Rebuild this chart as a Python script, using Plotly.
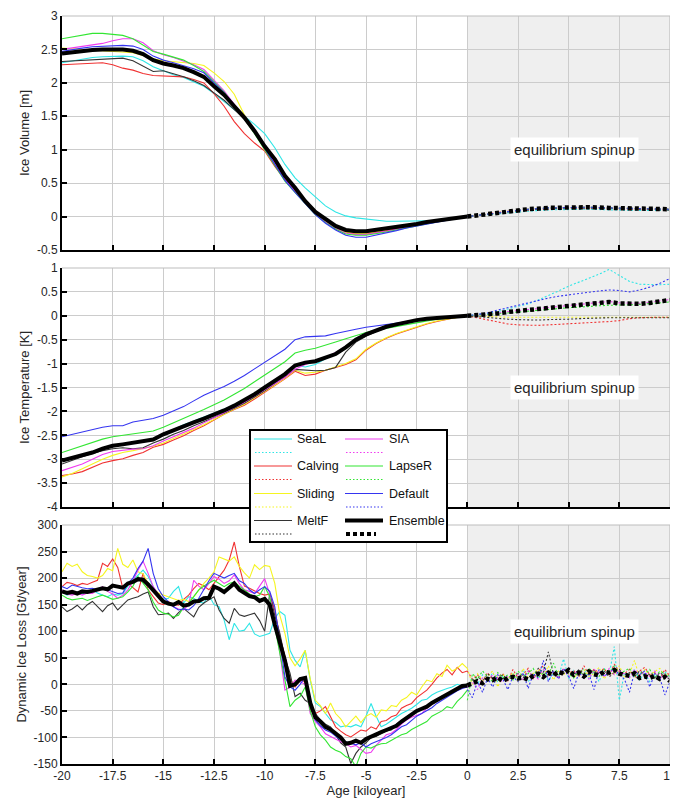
import plotly.graph_objects as go

# ---------------- data ----------------
AGE_PAST = [round(-20 + 0.5 * i, 2) for i in range(41)]      # -20 .. 0, 0.5 ky
AGE_PAST_Q = [round(-20 + 0.25 * i, 2) for i in range(81)]   # -20 .. 0, 0.25 ky
AGE_SPIN_1 = [float(i) for i in range(11)]                    # 0 .. 10, 1 ky
AGE_SPIN_H = [round(0.5 * i, 2) for i in range(21)]           # 0 .. 10, 0.5 ky
AGE_SPIN_Q = [round(0.25 * i, 2) for i in range(41)]          # 0 .. 10, 0.25 ky

MODELS = ["SeaL", "Calving", "Sliding", "MeltF", "SIA", "LapseR", "Default"]
COLORS = ["#2ee6e6", "#f03232", "#f5f520", "#333333", "#f03cf0", "#33e633", "#3535f0"]

X_TICKS = [-20, -17.5, -15, -12.5, -10, -7.5, -5, -2.5, 0, 2.5, 5, 7.5, 10]
X_TICKTEXT = ["-20", "-17.5", "-15", "-12.5", "-10", "-7.5", "-5", "-2.5", "0", "2.5", "5", "7.5", "10"]
VOL_TICKS = [-0.5, 0, 0.5, 1, 1.5, 2, 2.5, 3]
VOL_TICKTEXT = ["-0.5", "0", "0.5", "1", "1.5", "2", "2.5", "3"]
TMP_TICKS = [-4, -3.5, -3, -2.5, -2, -1.5, -1, -0.5, 0, 0.5, 1]
TMP_TICKTEXT = ["-4", "-3.5", "-3", "-2.5", "-2", "-1.5", "-1", "-0.5", "0", "0.5", "1"]
DIL_TICKS = [-150, -100, -50, 0, 50, 100, 150, 200, 250, 300]
DIL_TICKTEXT = ["-150", "-100", "-50", "0", "50", "100", "150", "200", "250", "300"]

# ---- Ice volume [m] ----
VOL = {
    "SeaL": [2.30, 2.33, 2.36, 2.38, 2.39, 2.40, 2.40, 2.39, 2.33, 2.24, 2.18, 2.12, 2.08, 2.02, 1.95, 1.84, 1.72, 1.60, 1.50, 1.38, 1.24, 1.03, 0.78, 0.58, 0.43, 0.29, 0.16, 0.07, 0.01, -0.02, -0.04, -0.06, -0.07, -0.07, -0.07, -0.07, -0.07, -0.06, -0.04, -0.02, 0.0],
    "Calving": [2.27, 2.28, 2.29, 2.30, 2.30, 2.27, 2.22, 2.19, 2.14, 2.11, 2.10, 2.10, 2.09, 2.05, 2.00, 1.84, 1.65, 1.42, 1.24, 1.10, 0.98, 0.75, 0.55, 0.38, 0.22, 0.06, -0.06, -0.16, -0.23, -0.26, -0.26, -0.24, -0.21, -0.18, -0.15, -0.12, -0.09, -0.07, -0.05, -0.02, 0.0],
    "Sliding": [2.52, 2.51, 2.50, 2.49, 2.48, 2.48, 2.47, 2.45, 2.41, 2.36, 2.33, 2.32, 2.31, 2.29, 2.26, 2.15, 2.02, 1.83, 1.52, 1.25, 1.00, 0.80, 0.57, 0.39, 0.22, 0.06, -0.06, -0.16, -0.23, -0.25, -0.25, -0.23, -0.20, -0.17, -0.14, -0.12, -0.09, -0.07, -0.05, -0.02, 0.0],
    "MeltF": [2.32, 2.33, 2.34, 2.35, 2.35, 2.36, 2.37, 2.33, 2.25, 2.17, 2.18, 2.14, 2.09, 2.03, 1.96, 1.85, 1.74, 1.60, 1.46, 1.28, 1.04, 0.82, 0.58, 0.40, 0.23, 0.07, -0.05, -0.15, -0.21, -0.23, -0.23, -0.21, -0.19, -0.16, -0.14, -0.11, -0.09, -0.06, -0.04, -0.02, 0.0],
    "SIA": [2.50, 2.52, 2.55, 2.57, 2.59, 2.63, 2.66, 2.66, 2.60, 2.48, 2.42, 2.38, 2.33, 2.27, 2.20, 2.04, 1.88, 1.68, 1.48, 1.27, 1.03, 0.80, 0.56, 0.38, 0.21, 0.05, -0.08, -0.18, -0.25, -0.27, -0.27, -0.25, -0.22, -0.19, -0.16, -0.13, -0.10, -0.07, -0.05, -0.02, 0.0],
    "LapseR": [2.66, 2.69, 2.72, 2.74, 2.74, 2.72, 2.71, 2.66, 2.56, 2.47, 2.43, 2.39, 2.34, 2.26, 2.17, 2.02, 1.86, 1.66, 1.46, 1.24, 1.00, 0.76, 0.53, 0.36, 0.19, 0.03, -0.09, -0.19, -0.26, -0.28, -0.28, -0.26, -0.23, -0.20, -0.17, -0.13, -0.10, -0.07, -0.05, -0.02, 0.0],
    "Default": [2.47, 2.50, 2.52, 2.54, 2.55, 2.56, 2.56, 2.55, 2.50, 2.40, 2.34, 2.30, 2.26, 2.21, 2.15, 2.00, 1.85, 1.66, 1.47, 1.26, 1.02, 0.78, 0.54, 0.36, 0.19, 0.03, -0.10, -0.20, -0.28, -0.31, -0.31, -0.28, -0.25, -0.21, -0.17, -0.14, -0.11, -0.08, -0.05, -0.02, 0.0],
}
VOL_ENS = [2.44, 2.46, 2.48, 2.49, 2.50, 2.50, 2.50, 2.48, 2.43, 2.34, 2.29, 2.26, 2.22, 2.16, 2.09, 1.95, 1.82, 1.65, 1.48, 1.28, 1.05, 0.86, 0.61, 0.43, 0.23, 0.07, -0.04, -0.14, -0.20, -0.22, -0.22, -0.20, -0.18, -0.15, -0.13, -0.11, -0.08, -0.06, -0.04, -0.02, 0.0]
VOL_SPIN = {
    "SeaL": [0, 0.03, 0.06, 0.08, 0.10, 0.11, 0.11, 0.10, 0.09, 0.09, 0.09],
    "Calving": [0, 0.04, 0.08, 0.10, 0.12, 0.13, 0.13, 0.12, 0.11, 0.10, 0.10],
    "Sliding": [0, 0.04, 0.08, 0.11, 0.13, 0.14, 0.14, 0.13, 0.12, 0.11, 0.11],
    "MeltF": [0, 0.04, 0.07, 0.10, 0.12, 0.13, 0.13, 0.12, 0.11, 0.10, 0.10],
    "SIA": [0, 0.04, 0.08, 0.11, 0.13, 0.14, 0.14, 0.13, 0.12, 0.11, 0.11],
    "LapseR": [0, 0.04, 0.08, 0.11, 0.13, 0.14, 0.14, 0.13, 0.12, 0.11, 0.11],
    "Default": [0, 0.04, 0.08, 0.11, 0.13, 0.14, 0.14, 0.13, 0.12, 0.11, 0.11],
}
VOL_ENS_SPIN = [0, 0.04, 0.08, 0.11, 0.13, 0.14, 0.14, 0.13, 0.12, 0.11, 0.11]

# ---- Ice temperature [K] ----
TMP = {
    "SeaL": [-3.01, -2.96, -2.91, -2.84, -2.77, -2.71, -2.68, -2.65, -2.63, -2.58, -2.47, -2.38, -2.28, -2.20, -2.12, -2.04, -1.96, -1.87, -1.76, -1.63, -1.49, -1.35, -1.21, -1.03, -1.07, -1.02, -0.90, -0.80, -0.66, -0.50, -0.39, -0.31, -0.23, -0.18, -0.13, -0.09, -0.06, -0.04, -0.02, -0.01, 0.0],
    "Calving": [-3.34, -3.31, -3.26, -3.17, -3.08, -3.03, -2.99, -2.92, -2.86, -2.75, -2.69, -2.60, -2.51, -2.40, -2.30, -2.18, -2.06, -1.96, -1.87, -1.74, -1.60, -1.46, -1.32, -1.16, -1.25, -1.22, -1.14, -1.08, -1.02, -0.92, -0.72, -0.58, -0.47, -0.38, -0.31, -0.24, -0.17, -0.12, -0.07, -0.03, 0.0],
    "Sliding": [-3.37, -3.30, -3.20, -3.10, -3.00, -2.92, -2.86, -2.82, -2.78, -2.73, -2.66, -2.57, -2.48, -2.38, -2.28, -2.17, -2.05, -1.95, -1.85, -1.72, -1.58, -1.45, -1.31, -1.14, -1.20, -1.18, -1.14, -1.07, -1.00, -0.90, -0.70, -0.57, -0.46, -0.37, -0.30, -0.23, -0.16, -0.11, -0.07, -0.03, 0.0],
    "MeltF": [-3.10, -3.02, -2.95, -2.88, -2.82, -2.78, -2.76, -2.78, -2.76, -2.66, -2.58, -2.48, -2.40, -2.30, -2.22, -2.13, -2.04, -1.94, -1.83, -1.70, -1.57, -1.42, -1.28, -1.12, -1.14, -1.15, -1.14, -1.08, -0.76, -0.55, -0.43, -0.33, -0.25, -0.19, -0.14, -0.10, -0.07, -0.04, -0.02, -0.01, 0.0],
    "SIA": [-3.24, -3.17, -3.10, -3.00, -2.90, -2.84, -2.81, -2.79, -2.78, -2.72, -2.62, -2.53, -2.45, -2.35, -2.24, -2.14, -2.03, -1.92, -1.81, -1.68, -1.55, -1.42, -1.29, -1.12, -1.02, -0.95, -0.87, -0.77, -0.63, -0.50, -0.39, -0.31, -0.23, -0.18, -0.13, -0.09, -0.06, -0.04, -0.02, -0.01, 0.0],
    "LapseR": [-2.86, -2.79, -2.72, -2.65, -2.58, -2.53, -2.50, -2.47, -2.45, -2.41, -2.33, -2.24, -2.15, -2.05, -1.96, -1.86, -1.76, -1.64, -1.52, -1.38, -1.24, -1.10, -0.96, -0.78, -0.72, -0.68, -0.62, -0.55, -0.48, -0.41, -0.35, -0.30, -0.26, -0.22, -0.18, -0.14, -0.10, -0.07, -0.05, -0.02, 0.0],
    "Default": [-2.53, -2.48, -2.43, -2.37, -2.33, -2.30, -2.30, -2.22, -2.19, -2.15, -2.08, -1.99, -1.90, -1.78, -1.66, -1.57, -1.48, -1.37, -1.25, -1.11, -0.97, -0.84, -0.70, -0.50, -0.44, -0.43, -0.42, -0.37, -0.32, -0.28, -0.24, -0.21, -0.18, -0.15, -0.12, -0.09, -0.07, -0.05, -0.03, -0.01, 0.0],
}
TMP_ENS = [-3.03, -2.98, -2.93, -2.86, -2.78, -2.72, -2.69, -2.66, -2.64, -2.59, -2.48, -2.39, -2.30, -2.23, -2.15, -2.07, -1.98, -1.88, -1.77, -1.64, -1.50, -1.36, -1.22, -1.04, -0.98, -0.95, -0.88, -0.80, -0.66, -0.50, -0.39, -0.31, -0.23, -0.18, -0.13, -0.09, -0.06, -0.04, -0.02, -0.01, 0.0]
TMP_SPIN = {
    "SeaL": [0, 0.02, 0.05, 0.09, 0.14, 0.19, 0.25, 0.33, 0.42, 0.52, 0.62, 0.70, 0.78, 0.87, 0.97, 0.85, 0.72, 0.66, 0.65, 0.65, 0.66],
    "Calving": [0, -0.04, -0.09, -0.13, -0.17, -0.19, -0.20, -0.20, -0.19, -0.18, -0.17, -0.16, -0.15, -0.14, -0.12, -0.10, -0.06, -0.04, -0.03, -0.03, -0.03],
    "Sliding": [0, -0.01, -0.02, -0.03, -0.03, -0.03, -0.03, -0.03, -0.03, -0.03, -0.03, -0.03, -0.03, -0.03, -0.03, -0.03, -0.03, -0.03, -0.03, -0.03, -0.03],
    "MeltF": [0, -0.02, -0.04, -0.06, -0.07, -0.08, -0.09, -0.09, -0.08, -0.08, -0.07, -0.06, -0.05, -0.05, -0.04, -0.04, -0.04, -0.04, -0.04, -0.04, -0.04],
    "SIA": [0, 0.01, 0.03, 0.06, 0.09, 0.11, 0.13, 0.15, 0.17, 0.19, 0.22, 0.24, 0.26, 0.28, 0.30, 0.27, 0.26, 0.26, 0.28, 0.31, 0.34],
    "LapseR": [0, 0.01, 0.02, 0.04, 0.06, 0.08, 0.10, 0.12, 0.14, 0.15, 0.17, 0.18, 0.20, 0.21, 0.22, 0.22, 0.23, 0.24, 0.25, 0.27, 0.29],
    "Default": [0, 0.03, 0.06, 0.12, 0.17, 0.23, 0.28, 0.33, 0.37, 0.41, 0.44, 0.46, 0.49, 0.52, 0.54, 0.53, 0.50, 0.54, 0.60, 0.68, 0.78],
}
TMP_ENS_SPIN = [0, 0.01, 0.03, 0.05, 0.08, 0.10, 0.12, 0.14, 0.16, 0.18, 0.21, 0.23, 0.25, 0.27, 0.29, 0.26, 0.25, 0.25, 0.27, 0.30, 0.33]

# ---- Dynamic ice loss [Gt/year] ----
DIL = {
    "SeaL": [175, 168, 171, 174, 170, 176, 178, 172, 168, 165, 170, 168, 171, 185, 196, 205,
             215, 203, 185, 165, 160, 162, 175, 184, 153, 165, 162, 155, 153, 168, 150, 146,
             121, 84, 115, 100, 102, 115, 95, 90, 93, 96, 125, 137, 130, 64, 45, 33,
             64, 8, -35, -42, -55, -67, -72, -80, -78, -80, -76, -80, -60, -36, -60, -80,
             -75, -68, -62, -55, -50, -45, -38, -30, -28, -20, -15, -11, -8, -5, 0, -3, -5],
    "Calving": [184, 192, 190, 186, 190, 188, 192, 196, 228, 222, 236, 220, 181, 190, 182, 174,
                209, 178, 165, 153, 150, 156, 150, 149, 160, 168, 180, 190, 185, 178, 190, 203,
                215, 234, 268, 222, 185, 181, 176, 171, 168, 170, 140, 90, 52, 10, -5, 8,
                5, -48, -55, -50, -42, -60, -80, -88, -95, -99, -92, -86, -88, -80, -84, -70,
                -68, -61, -58, -45, -40, -36, -25, -18, -11, 0, 12, 21, 28, 18, 32, 22, 25],
    "Sliding": [212, 228, 222, 226, 212, 205, 203, 200, 205, 218, 214, 256, 226, 220, 234, 212,
                208, 190, 180, 172, 168, 165, 162, 158, 160, 156, 165, 178, 190, 200, 212, 240,
                236, 232, 240, 222, 210, 200, 225, 216, 224, 222, 190, 130, 96, 50, 35, 48,
                64, 10, -30, -40, -55, -35, -55, -65, -80, -70, -60, -72, -60, -55, -62, -48,
                -50, -40, -42, -30, -25, -15, -20, -5, 8, 5, 20, 15, 36, 25, 30, 39, 30],
    "MeltF": [146, 137, 142, 149, 140, 150, 156, 146, 137, 148, 153, 140, 150, 159, 162, 165,
              170, 174, 146, 131, 132, 134, 124, 135, 143, 135, 127, 145, 153, 159, 165, 140,
              124, 115, 143, 131, 128, 131, 134, 120, 100, 171, 130, 96, 50, 21, -23, -17,
              -30, -36, -55, -67, -75, -80, -95, -110, -118, -149, -130, -118, -110, -100, -98, -92,
              -88, -86, -75, -68, -61, -55, -50, -45, -42, -35, -28, -23, -18, -12, -8, -5, -5],
    "SIA": [178, 170, 168, 172, 168, 172, 171, 178, 184, 175, 170, 162, 168, 178, 195, 215,
            232, 209, 184, 170, 159, 152, 146, 142, 140, 150, 196, 185, 178, 190, 203, 198,
            190, 195, 206, 190, 178, 175, 171, 185, 199, 170, 115, 60, -11, -5, 8, 5,
            0, -55, -70, -80, -93, -98, -104, -108, -112, -118, -115, -122, -130, -128, -115, -105,
            -95, -92, -85, -75, -67, -62, -58, -55, -45, -38, -30, -23, -18, -12, -8, -6, -5],
    "LapseR": [168, 162, 159, 160, 162, 158, 162, 165, 168, 164, 160, 162, 165, 174, 185, 203,
               190, 178, 155, 140, 134, 132, 127, 130, 145, 153, 165, 178, 185, 190, 196, 190,
               184, 190, 193, 185, 178, 170, 165, 168, 184, 165, 108, 60, 10, -42, -30, -23,
               -5, -50, -80, -95, -105, -118, -124, -128, -136, -140, -155, -130, -118, -120, -115, -112,
               -111, -105, -100, -95, -92, -85, -80, -74, -70, -60, -55, -50, -42, -45, -32, -23, -11],
    "Default": [184, 180, 187, 184, 182, 180, 181, 178, 180, 178, 175, 171, 172, 190, 200, 218,
                232, 256, 209, 180, 165, 155, 146, 140, 142, 140, 148, 162, 180, 195, 209, 205,
                200, 205, 209, 195, 190, 178, 171, 178, 184, 175, 146, 80, 14, -5, -11, 0,
                14, -30, -67, -78, -86, -90, -98, -105, -108, -111, -114, -110, -118, -112, -108, -105,
                -100, -95, -88, -80, -76, -68, -60, -55, -50, -44, -36, -30, -24, -17, -12, -8, -5],
}
DIL_ENS = [175, 172, 174, 171, 175, 174, 176, 178, 181, 179, 186, 184, 182, 190, 193, 198,
           197, 188, 178, 166, 156, 152, 150, 155, 148, 150, 156, 157, 162, 163, 184, 180,
           174, 182, 190, 178, 172, 166, 164, 157, 161, 150, 112, 80, 45, -3, 0, 10,
           12, -35, -62, -70, -80, -85, -92, -100, -112, -110, -106, -110, -103, -98, -94, -90,
           -86, -82, -78, -70, -63, -55, -50, -46, -42, -35, -30, -25, -20, -14, -8, -3, -2]
DIL_SPIN = {
    "SeaL": [-5, 12, 0, 18, 6, 22, 4, 15, 8, 20, 10, 28, 5, 18, 14, 32, 8, 20, 14, 48, 10, 26, 16, 30, 10, 24, 5, 30, 18, 71, -30, 22, 15, 28, 8, 22, 5, 18, 12, 24, 12],
    "Calving": [25, 10, 18, 5, 22, 8, 14, 20, 6, 28, 12, 18, 30, 10, 25, 35, 15, 22, 12, 30, 20, 26, 14, 35, 18, 28, 22, 30, 16, 38, 24, 20, 28, 12, 25, 32, 18, 22, 10, 28, 15],
    "Sliding": [30, 0, 20, 8, 15, 25, -5, 18, 10, 22, 5, 30, 12, 20, 28, 15, 35, 8, 25, 18, 30, 12, 22, 28, 15, 20, 32, 10, 25, 18, 35, 14, 20, 45, 12, 28, 18, 24, 30, 15, 20],
    "MeltF": [-5, 8, 15, 5, 20, 12, 10, 18, 8, 15, 20, 12, 25, 15, 30, 22, 61, 18, 25, 20, 30, 15, 28, 22, 18, 26, 20, 25, 14, 22, 28, 18, 22, 15, 25, 20, 18, 12, 22, 15, 10],
    "SIA": [-5, 5, -10, 12, 8, 18, 10, 5, 15, 12, 20, 8, 25, 15, 10, 28, 18, 22, 12, 30, 15, 20, 25, 18, 10, 28, 22, 15, 30, 18, 25, 20, 12, 28, 18, 22, 15, 25, 10, 20, 8],
    "LapseR": [-30, 20, 10, 25, 15, 5, 22, 12, 18, 8, 25, 15, 20, 30, 12, 22, 18, 40, 15, 28, 20, 12, 25, 18, 30, 22, 15, 28, 20, 35, 18, 25, 30, 15, 22, 18, 28, 12, 25, 20, 15],
    "Default": [-10, -25, 5, -15, 12, -5, 18, 10, -10, 15, 5, 22, -8, 20, 12, 45, 5, 25, 10, 30, 15, -8, 22, 12, 20, -10, 28, 15, 22, 30, 18, 10, -15, 24, 18, 25, -5, 20, 12, -20, 5],
}
DIL_ENS_SPIN = [-2, 3, 6, 2, 10, 8, 13, 6, 12, 14, 11, 13, 9, 16, 20, 14, 22, 17, 24, 20, 27, 18, 22, 15, 24, 19, 17, 24, 22, 27, 20, 18, 16, 21, 12, 15, 12, 16, 10, 14, 6]

LABEL_TEXT = "equilibrium spinup"
LABEL_POS = [(5.3, 1.0), (5.3, -1.5), (5.3, 100)]

# ---------------- figure ----------------
# the page body adds an 8 px margin, so the figure is sized to fill the rest of the window
OFF = 8
W, H = 670, 793
ML, MR, MT, MB = 54, 8, 8, 37
PW, PH = W - ML - MR, H - MT - MB
FONT = "Liberation Sans, Arial, Helvetica, sans-serif"
TXT = "#262626"


def ypap(py):
    # page pixel -> paper fraction
    return 1 - (py - OFF - MT) / PH


def xpap(px):
    return (px - OFF - ML) / PW


DOMAINS = [[ypap(250), 1.0], [ypap(507), ypap(268)], [0.0, ypap(525)]]

fig = go.Figure()

panels = [
    (VOL, VOL_ENS, AGE_PAST, VOL_SPIN, VOL_ENS_SPIN, AGE_SPIN_1),
    (TMP, TMP_ENS, AGE_PAST, TMP_SPIN, TMP_ENS_SPIN, AGE_SPIN_H),
    (DIL, DIL_ENS, AGE_PAST_Q, DIL_SPIN, DIL_ENS_SPIN, AGE_SPIN_Q),
]

for i, (past, ens, xp, spin, ens_spin, xs) in enumerate(panels):
    xa = "x" if i == 0 else f"x{i + 1}"
    ya = "y" if i == 0 else f"y{i + 1}"
    for m, c in zip(MODELS, COLORS):
        fig.add_trace(go.Scatter(x=xp, y=past[m], mode="lines", name=m, showlegend=False,
                                 line=dict(color=c, width=1.1), xaxis=xa, yaxis=ya, hoverinfo="skip"))
        fig.add_trace(go.Scatter(x=xs, y=spin[m], mode="lines", name=m, showlegend=False,
                                 line=dict(color=c, width=1.1, dash="2px,2px"), xaxis=xa, yaxis=ya,
                                 hoverinfo="skip"))
    fig.add_trace(go.Scatter(x=xp, y=ens, mode="lines", name="Ensemble", showlegend=False,
                             line=dict(color="black", width=4), xaxis=xa, yaxis=ya, hoverinfo="skip"))
    fig.add_trace(go.Scatter(x=xs, y=ens_spin, mode="lines", name="Ensemble", showlegend=False,
                             line=dict(color="black", width=4.5, dash="4px,3px"), xaxis=xa, yaxis=ya,
                             hoverinfo="skip"))

axis_common = dict(
    showgrid=True, gridcolor="#cccccc", gridwidth=1.4,
    zeroline=False, showline=True, linecolor="black", linewidth=2,
    ticks="inside", ticklen=5, tickwidth=2, tickcolor="black",
    tickfont=dict(family=FONT, size=12, color=TXT),
    automargin=False, ticklabeloverflow="allow",
)

yinfo = [
    ("Ice Volume [m]", [-0.5, 3], VOL_TICKS, VOL_TICKTEXT),
    ("Ice Temperature [K]", [-4, 1], TMP_TICKS, TMP_TICKTEXT),
    ("Dynamic Ice Loss [Gt/year]", [-150, 300], DIL_TICKS, DIL_TICKTEXT),
]

layout = dict(
    template="none",
    width=W, height=H,
    margin=dict(l=ML, r=MR, t=MT, b=MB, autoexpand=False),
    paper_bgcolor="white", plot_bgcolor="white",
    showlegend=False,
    font=dict(family=FONT, color=TXT),
)

for i in range(3):
    xk = "xaxis" if i == 0 else f"xaxis{i + 1}"
    yk = "yaxis" if i == 0 else f"yaxis{i + 1}"
    ya = "y" if i == 0 else f"y{i + 1}"
    xa = "x" if i == 0 else f"x{i + 1}"
    layout[xk] = dict(axis_common, range=[-20, 10], tickvals=X_TICKS, ticktext=X_TICKTEXT,
                      showticklabels=(i == 2), anchor=ya, domain=[0, 1])
    if i == 2:
        layout[xk]["title"] = dict(text="Age [kiloyear]", font=dict(family=FONT, size=13, color=TXT),
                                   standoff=0)
    title, rng, tv, tt = yinfo[i]
    layout[yk] = dict(axis_common, range=rng, tickvals=tv, ticktext=tt, anchor=xa,
                      domain=DOMAINS[i],
                      title=dict(text=title, font=dict(family=FONT, size=13, color=TXT), standoff=4))

fig.update_layout(**layout)

shapes = []
annotations = []
for i in range(3):
    xa = "x" if i == 0 else f"x{i + 1}"
    ya = "y" if i == 0 else f"y{i + 1}"
    # spinup shading
    shapes.append(dict(type="rect", xref=xa, yref=f"{ya} domain", x0=0, x1=10, y0=0, y1=1,
                       fillcolor="#efefef", line=dict(width=0), layer="below"))
    # light top / right frame
    shapes.append(dict(type="line", xref=f"{xa} domain", yref=f"{ya} domain", x0=0, x1=1, y0=1, y1=1,
                       line=dict(color="#bdbdbd", width=1.2), layer="above"))
    shapes.append(dict(type="line", xref=f"{xa} domain", yref=f"{ya} domain", x0=1, x1=1, y0=0, y1=1,
                       line=dict(color="#bdbdbd", width=1.2), layer="above"))
    lx, ly = LABEL_POS[i]
    annotations.append(dict(x=lx, y=ly, xref=xa, yref=ya, text=LABEL_TEXT, showarrow=False,
                            font=dict(family=FONT, size=15, color=TXT), bgcolor="white",
                            borderpad=3))

# ---- legend (drawn as a boxed two-column key) ----
shapes.append(dict(type="rect", xref="paper", yref="paper", x0=xpap(250), x1=xpap(447),
                   y0=ypap(542), y1=ypap(430), fillcolor="white",
                   line=dict(color="black", width=2), layer="above"))
ROWS = [439, 452.5, 466, 479.5, 493.5, 507, 520.5, 534]
COLS = [(254, 292, 295), (345, 383, 387)]
LEG_ORDER = [["SeaL", "Calving", "Sliding", "MeltF"], ["SIA", "LapseR", "Default", "Ensemble"]]
cmap = dict(zip(MODELS, COLORS))
cmap["Ensemble"] = "black"
for ci, names in enumerate(LEG_ORDER):
    x0, x1, xt = COLS[ci]
    for ri, name in enumerate(names):
        ys = ROWS[2 * ri]
        yd = ROWS[2 * ri + 1]
        ens = name == "Ensemble"
        shapes.append(dict(type="line", xref="paper", yref="paper", x0=xpap(x0), x1=xpap(x1),
                           y0=ypap(ys), y1=ypap(ys),
                           line=dict(color=cmap[name], width=4 if ens else 1.2), layer="above"))
        shapes.append(dict(type="line", xref="paper", yref="paper", x0=xpap(x0 + 1), x1=xpap(x1 - 7 if ens else x1),
                           y0=ypap(yd), y1=ypap(yd),
                           line=dict(color=cmap[name], width=4 if ens else 1.2,
                                     dash="4px,3px" if ens else "1.5px,2px"), layer="above"))
        annotations.append(dict(x=xpap(xt), y=ypap(ys), xref="paper", yref="paper", text=name,
                                showarrow=False, xanchor="left", yanchor="middle",
                                font=dict(family=FONT, size=12.5, color="#111111")))

fig.update_layout(shapes=shapes, annotations=annotations)

fig.write_html("out.html")
